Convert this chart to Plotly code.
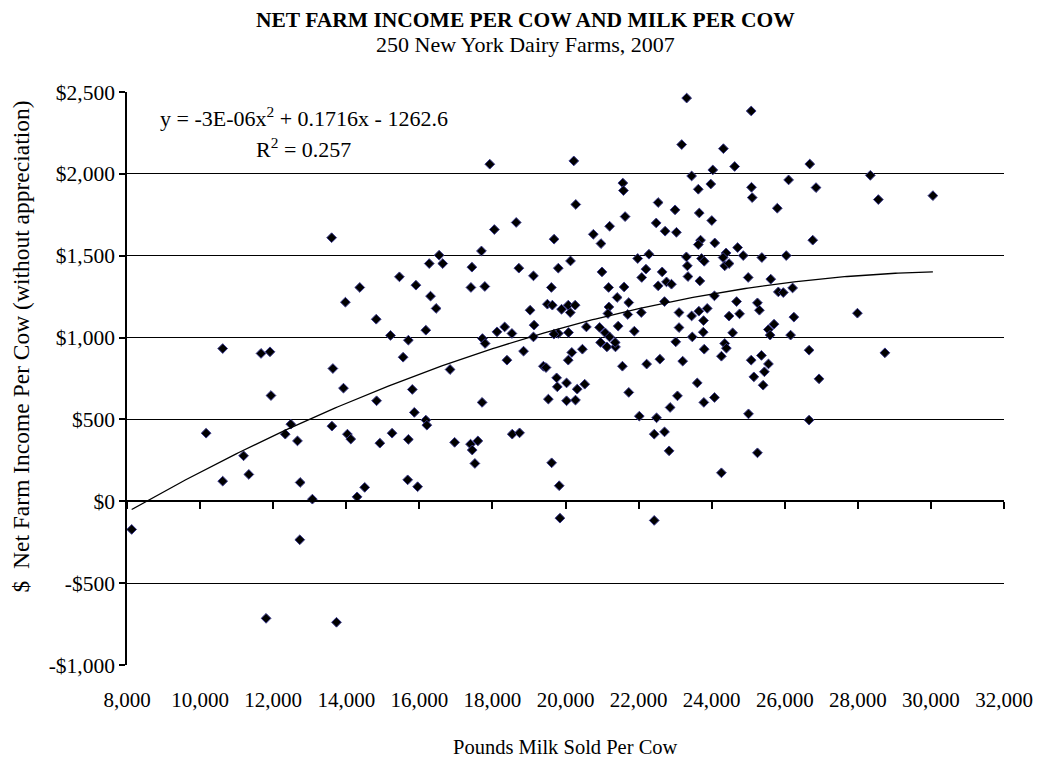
import numpy as np
import plotly.graph_objects as go

# Pounds of milk sold per cow, one entry per farm
milk_per_cow = [
    13600, 14370, 15455, 15907, 23316, 23180, 17928, 20227, 23452, 23634,
    21569, 21586, 20281, 22536, 22998, 23661, 21631, 18651, 18053, 22482,
    22726, 23036, 21208, 20762, 20971, 19687, 17700, 16542, 16271, 16640,
    17439, 17412, 17792, 18724, 19123, 19803, 20137, 19613, 20998, 21180,
    21604, 21976, 22284, 22202, 22086, 22645, 22764, 22900, 22536, 23308,
    23335, 23351, 23677, 23723, 23696, 23634, 25082, 24321, 24629, 24031,
    26685, 28342, 23976, 25090, 25109, 26106, 26856, 28561, 30054, 25796,
    24003, 24085, 26766, 24710, 24394, 24864, 25373, 26041, 23796, 24313,
    24357, 24476, 25000, 25617, 25824, 25960, 26215, 24076, 24682, 25253,
    25307, 23650, 23878, 24476, 24764, 23778, 26250, 27989, 25707, 25552,
    25600, 23770, 24574, 26160, 24357, 24403, 23796, 26666, 28741, 24267,
    25082, 25362, 25554, 25443, 25155, 25408, 26938, 23606, 24077, 23786,
    25008, 26666, 25253, 24267, 13977, 14820, 15211, 15700, 15556, 10619,
    11668, 11913, 13634, 11940, 13924, 14830, 15808, 15863, 10165, 12483,
    12331, 12665, 13608, 14032, 14124, 14920, 15254, 15700, 11190, 8128,
    10619, 11334, 12739, 13073, 14296, 14505, 15681, 15953, 12728, 11806,
    13733, 19828, 19848, 22428, 16306, 16460, 16178, 19031, 19504, 19640,
    19892, 20130, 20075, 20264, 21188, 21161, 21414, 21731, 21704, 22074,
    22710, 23107, 23452, 23107, 23470, 23017, 23207, 22583, 22221, 21558,
    21884, 21441, 20572, 20933, 21088, 21206, 20960, 21134, 21368, 21360,
    20463, 20172, 20075, 20083, 19803, 19683, 19140, 19123, 18852, 18534,
    18335, 18126, 17727, 17800, 18398, 16841, 16178, 16206, 17718, 19395,
    19467, 19757, 19776, 20029, 20320, 20526, 19531, 20029, 20273, 21732,
    22020, 22492, 22428, 22710, 22835, 22863, 23064, 16966, 17401, 17602,
    17447, 17520, 18542, 18743, 19621,
]

# Net farm income per cow (without appreciation), dollars
income_per_cow = [
    1610, 1306, 1371, 1320, 2463, 2179, 2059, 2079, 1987, 1906,
    1944, 1898, 1813, 1825, 1780, 1761, 1739, 1703, 1660, 1700,
    1650, 1643, 1680, 1631, 1574, 1601, 1529, 1503, 1452, 1452,
    1430, 1306, 1312, 1424, 1377, 1424, 1468, 1306, 1401, 1306,
    1309, 1483, 1509, 1418, 1367, 1401, 1340, 1326, 1316, 1493,
    1438, 1373, 1346, 1483, 1595, 1568, 2384, 2154, 2045, 2024,
    2060, 1991, 1938, 1918, 1855, 1963, 1916, 1843, 1867, 1790,
    1715, 1578, 1595, 1550, 1517, 1501, 1489, 1501, 1466, 1489,
    1438, 1452, 1367, 1357, 1279, 1275, 1303, 1255, 1220, 1212,
    1167, 1161, 1178, 1131, 1145, 1104, 1125, 1149, 1082, 1049,
    1015, 1033, 1029, 1015, 964, 935, 929, 923, 907, 886,
    862, 891, 839, 791, 760, 709, 748, 723, 634, 604,
    534, 496, 296, 174, 1216, 1112, 1013, 984, 880, 933,
    903, 913, 811, 646, 691, 614, 683, 543, 416, 471,
    410, 369, 459, 410, 380, 355, 416, 378, 278, -172,
    123, 164, 115, 13, 27, 85, 131, 89, -235, -715,
    -739, 95, -103, -117, 1253, 1178, 1045, 1167, 1204, 1198,
    1173, 1153, 1198, 1198, 1187, 1147, 1245, 1214, 1141, 1153,
    1220, 1153, 1132, 1061, 1004, 974, 856, 868, 838, 825,
    1039, 1070, 1065, 1062, 1029, 1004, 970, 943, 943, 970,
    929, 909, 862, 1031, 1025, 1021, 1076, 1004, 917, 1025,
    1065, 1035, 994, 964, 862, 805, 496, 465, 604, 825,
    817, 754, 699, 723, 685, 715, 624, 614, 618, 665,
    520, 510, 410, 424, 308, 573, 644, 360, 349, 369,
    313, 231, 410, 418, 235,
]

# Polynomial trendline (order 2): a*x^2 + b*x + c
trend_coeffs = [-2.76e-06, 0.1716, -1262.6]
trend_label = "y = -3E-06x<sup>2</sup> + 0.1716x - 1262.6"
r2_label = "R<sup>2</sup> = 0.257"

x_ticks = list(range(8000, 32001, 2000))
y_ticks = list(range(-1000, 2501, 500))


def dollars(v):
    return ("-$" if v < 0 else "$") + f"{abs(v):,}"


x_range = [8000, 32000]
y_range = [-1000, 2500]
FONT = "Liberation Serif, Times New Roman, serif"

trend_x = np.linspace(min(milk_per_cow), max(milk_per_cow), 300)
trend_y = np.polyval(trend_coeffs, trend_x)

fig = go.Figure()
fig.add_trace(go.Scatter(
    x=milk_per_cow, y=income_per_cow, mode="markers",
    marker=dict(symbol="diamond", size=7.5, color="black",
                line=dict(color="#3a3a8c", width=1)),
    showlegend=False, hoverinfo="x+y",
))
# Trendline sits on the axis that crosses at $0 (same range as x)
fig.add_trace(go.Scatter(
    x=trend_x, y=trend_y, mode="lines", xaxis="x2",
    line=dict(color="black", width=1.3),
    showlegend=False, hoverinfo="skip",
))

# The category axis crosses the value axis at $0
zero_pos = (0 - y_range[0]) / (y_range[1] - y_range[0])

fig.update_layout(
    width=1045, height=760,
    margin=dict(l=127, r=34, t=92, b=95),
    paper_bgcolor="white", plot_bgcolor="white",
    font=dict(family=FONT, size=21, color="black"),
    xaxis=dict(
        range=x_range, tickvals=x_ticks, tickformat=",d",
        showgrid=False, zeroline=False, showline=False, ticks="",
        ticklabelstandoff=20, tickfont=dict(size=21),
    ),
    xaxis2=dict(
        range=x_range, tickvals=x_ticks, overlaying="x", anchor="free",
        position=zero_pos, side="bottom", showgrid=False, zeroline=False,
        showline=True, linecolor="black", linewidth=1.5, ticks="outside",
        ticklen=7, tickcolor="black", tickwidth=1.5, showticklabels=False,
    ),
    yaxis=dict(
        range=y_range, tickvals=y_ticks, ticktext=[dollars(v) for v in y_ticks],
        showgrid=True, gridcolor="black", gridwidth=1.3, zeroline=False,
        showline=True, linecolor="black", linewidth=1.5, ticks="outside",
        ticklen=6, tickcolor="black", tickwidth=1.5, tickfont=dict(size=21.5),
    ),
    annotations=[
        dict(text="<b>NET FARM INCOME PER COW AND MILK PER COW</b>",
             xref="paper", yref="paper", x=0.5, y=1, xanchor="center",
             yanchor="middle", yshift=72, showarrow=False,
             font=dict(size=21.5), xshift=-40),
        dict(text="250 New York Dairy Farms, 2007",
             xref="paper", yref="paper", x=0.5, y=1, xanchor="center",
             yanchor="middle", yshift=48, showarrow=False,
             font=dict(size=22), xshift=-40),
        dict(text=trend_label, xref="paper", yref="paper", x=0.2014,
             y=0.9564, xanchor="center", yanchor="middle",
             showarrow=False, font=dict(size=22)),
        dict(text=r2_label, xref="paper", yref="paper", x=0.2014,
             y=0.9023, xanchor="center", yanchor="middle",
             showarrow=False, font=dict(size=22)),
        dict(text="Pounds Milk Sold Per Cow", xref="paper", yref="paper",
             x=0.5, y=0, xanchor="center", yanchor="middle", yshift=-82,
             showarrow=False, font=dict(size=20.5)),
        dict(text="$  Net Farm Income Per Cow (without appreciation)",
             xref="paper", yref="paper", x=0, y=0.5, xanchor="center",
             yanchor="middle", xshift=-107, yshift=32, textangle=-90,
             showarrow=False, font=dict(size=23.5)),
    ],
)

fig.write_html("out.html")
